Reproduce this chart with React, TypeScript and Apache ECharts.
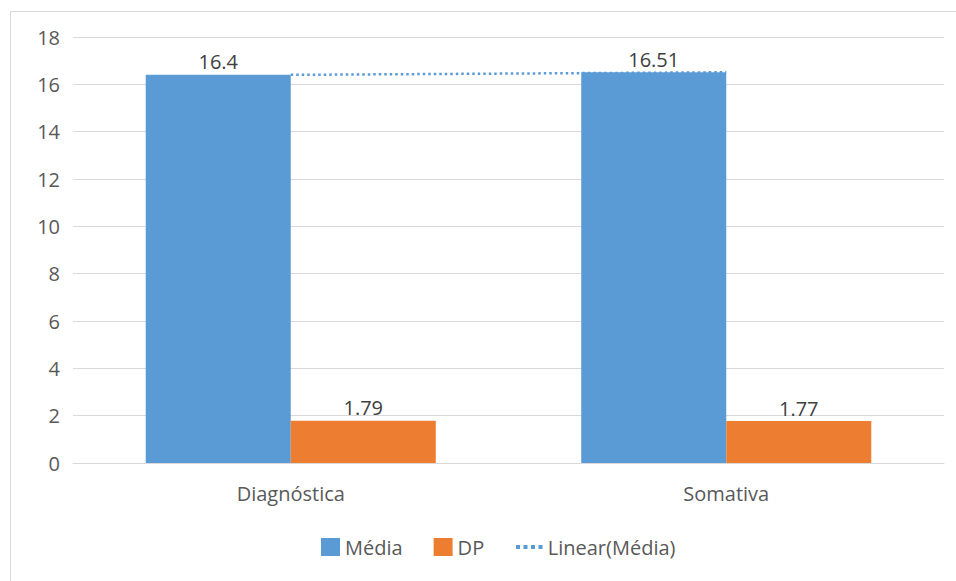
import React, { useEffect, useRef } from "react";
import * as echarts from "echarts";

const categories = ["Diagnóstica", "Somativa"];
const mediaValues = [16.4, 16.51];
const dpValues = [1.79, 1.77];
const trendPoints: [number, number][] = [
  [0.5, 16.4],
  [1.5, 16.51],
];

const FONT = "'Open Sans', 'Liberation Sans', sans-serif";
const FS = 20;
const DOTS_ICON =
  "path://M0,0h4v4h-4zM7.5,0h4v4h-4zM15,0h4v4h-4zM22.5,0h4v4h-4z";

export default function App() {
  const ref = useRef<HTMLDivElement>(null);
  useEffect(() => {
    document.body.style.margin = "0";
    if (!ref.current) return;
    const chart = echarts.init(ref.current, undefined, { renderer: "svg" });
    chart.setOption({
      animation: false,
      backgroundColor: "#ffffff",
      textStyle: { fontFamily: FONT },
      graphic: [
        {
          type: "rect",
          shape: { x: 10.5, y: 11.5, width: 960, height: 600 },
          style: { fill: "none", stroke: "#d9d9d9", lineWidth: 1 },
          silent: true,
        },
      ],
      legend: [
        {
          data: [
            { name: "Média", icon: "rect" },
            { name: "DP", icon: "rect" },
          ],
          left: 321,
          top: 537,
          padding: 0,
          itemWidth: 19,
          itemHeight: 18,
          itemGap: 31,
          textStyle: { color: "#595959", fontSize: FS, fontFamily: FONT },
        },
        {
          data: [{ name: "Linear(Média)", icon: DOTS_ICON }],
          left: 516,
          top: 537,
          padding: 0,
          itemWidth: 27,
          itemHeight: 4,
          itemStyle: { color: "#5b9bd5" },
          textStyle: { color: "#595959", fontSize: FS, fontFamily: FONT },
        },
      ],
      grid: { left: 73, right: 12, top: 37, bottom: 118, containLabel: false },
      xAxis: [
        {
          type: "category",
          data: categories,
          axisLine: { lineStyle: { color: "#d9d9d9" } },
          axisTick: { show: false },
          axisLabel: { color: "#595959", fontSize: FS, margin: 20, fontFamily: FONT },
        },
        {
          type: "value",
          min: 0,
          max: 2,
          show: false,
        },
      ],
      yAxis: {
        type: "value",
        min: 0,
        max: 18,
        interval: 2,
        axisLine: { show: false },
        axisTick: { show: false },
        axisLabel: { color: "#595959", fontSize: FS, margin: 13, fontFamily: FONT },
        splitLine: { lineStyle: { color: "#d9d9d9", width: 1 } },
      },
      series: [
        {
          name: "Média",
          type: "bar",
          data: mediaValues,
          barGap: "0%",
          barCategoryGap: "33.4%",
          itemStyle: { color: "#5b9bd5" },
          label: {
            show: true,
            position: "top",
            distance: 3,
            color: "#404040",
            fontSize: FS,
            fontFamily: FONT,
          },
        },
        {
          name: "DP",
          type: "bar",
          data: dpValues,
          itemStyle: { color: "#ed7d31" },
          label: {
            show: true,
            position: "top",
            distance: 3,
            color: "#404040",
            fontSize: FS,
            fontFamily: FONT,
          },
        },
        {
          name: "Linear(Média)",
          type: "line",
          xAxisIndex: 1,
          data: trendPoints,
          symbol: "none",
          z: 5,
          lineStyle: { color: "#5b9bd5", width: 2.5, type: [2.5, 3] },
          itemStyle: { color: "#5b9bd5" },
        },
      ],
    });
    return () => chart.dispose();
  }, []);
  return <div ref={ref} style={{ width: 956, height: 581 }} />;
}
